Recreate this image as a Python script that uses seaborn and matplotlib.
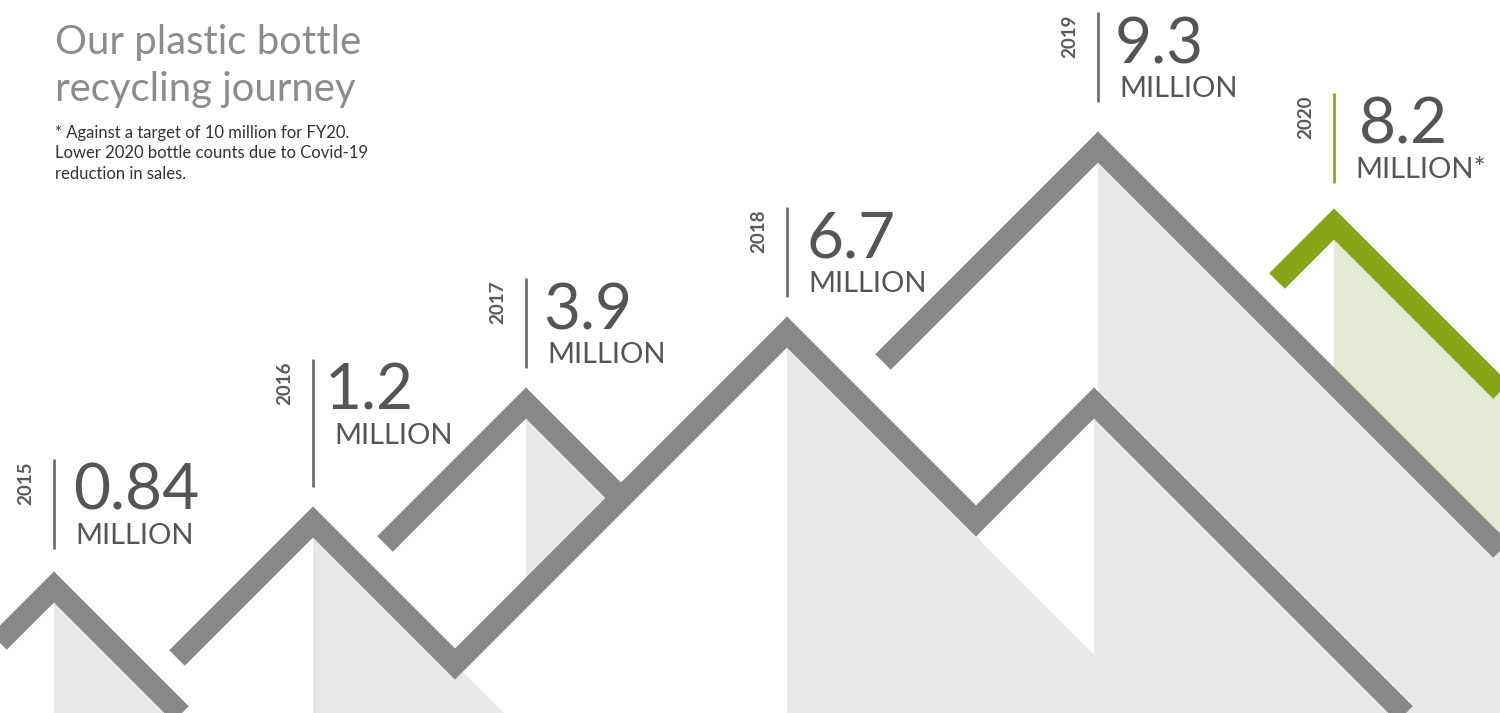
import matplotlib
matplotlib.use("Agg")
import matplotlib.pyplot as plt
import seaborn as sns

# ---------------- data ----------------
years = ["2015", "2016", "2017", "2018", "2019", "2020"]
values = [0.84, 1.2, 3.9, 6.7, 9.3, 8.2]
units = ["MILLION", "MILLION", "MILLION", "MILLION", "MILLION", "MILLION*"]
title_lines = ["Our plastic bottle", "recycling journey"]
note_lines = ["* Against a target of 10 million for FY20.",
              "Lower 2020 bottle counts due to Covid-19",
              "reduction in sales."]

# ---------------- layout (pixel space of a 1500x713 canvas) ----------------
W, H = 1500, 713
peak_x = [54, 313, 526, 787, 1098, 1334]
peak_y = [587, 522, 403, 332, 147, 224]
label_top = [459, 359, 278, 207, 12, 93]
bar_len = [90, 128, 90, 90, 90, 90]
num_dx = [19, 12, 17, 19, 17, 25]
left_leg = [100, 136, 141, None, 215, 57]   # horizontal length of cut left legs
sec_peak = (1094, 403)                        # secondary (unlabelled) peak

GRAY_LINE = "#888888"
GRAY_FILL = "#e8e8e8"
GREEN_LINE = "#87a316"
GREEN_FILL = "#e3e9d4"
TEXT_DARK = "#555555"
BAR_GRAY = "#6a6a6a"

sns.set_theme(style="white")
plt.rcParams["font.family"] = ["Lato", "DejaVu Sans"]

fig = plt.figure(figsize=(15, 7.13), dpi=100)
ax = fig.add_axes([0, 0, 1, 1])
ax.set_xlim(0, W)
ax.set_ylim(H, 0)
ax.axis("off")

LW = 22 * 72 / 100  # 22 px stroke
BOT = 760
RIGHT = 1560

P = list(zip(peak_x, peak_y))


def valley(a, b):
    x = (a[0] + b[0] + b[1] - a[1]) / 2
    return (x, a[1] + x - a[0])


def down_right(p, x=None, y=None):
    if y is not None:
        return (p[0] + (y - p[1]), y)
    return (x, p[1] + (x - p[0]))


def cut_left(p, d):
    return (p[0] - d, p[1] + d)


v13 = valley(P[1], P[3])
v3s = valley(P[3], sec_peak)
# intersection of 2017 right leg with ascending leg v13 -> P3
s_sum = P[3][0] + P[3][1]
s_diff = P[2][1] - P[2][0]
x17 = (s_sum - s_diff) / 2
j17 = (x17, s_sum - x17)

# ---------- shading ----------
fills = [
    ([P[0], down_right(P[0], y=BOT), (P[0][0], BOT)], GRAY_FILL),
    ([P[1], down_right(P[1], y=BOT), (P[1][0], BOT)], GRAY_FILL),
    ([P[2], j17, (P[2][0], s_sum - P[2][0])], GRAY_FILL),
    ([P[3], down_right(P[3], y=BOT), (P[3][0], BOT)], GRAY_FILL),
    ([sec_peak, down_right(sec_peak, y=BOT), (sec_peak[0], BOT)], GRAY_FILL),
    ([P[4], down_right(P[4], x=RIGHT), (RIGHT, BOT), (P[4][0], BOT)], GRAY_FILL),
    ([(v3s[0], v3s[1] + 15.5), sec_peak,
      (sec_peak[0], v3s[1] + 15.5 + sec_peak[0] - v3s[0])], "white"),
    ([P[5], down_right(P[5], x=RIGHT), down_right(P[4], x=RIGHT),
      down_right(P[4], x=P[5][0])], GREEN_FILL),
]
for poly, col in fills:
    xs, ys = zip(*poly)
    ax.fill(xs, ys, color=col, lw=0, zorder=1)

# ---------- mountain strokes ----------
lines = [
    ([cut_left(P[0], left_leg[0]), P[0], down_right(P[0], y=BOT)], GRAY_LINE),
    ([cut_left(P[1], left_leg[1]), P[1], v13, P[3], v3s, sec_peak,
      down_right(sec_peak, y=BOT)], GRAY_LINE),
    ([cut_left(P[2], left_leg[2]), P[2], j17], GRAY_LINE),
    ([cut_left(P[4], left_leg[4]), P[4], down_right(P[4], x=RIGHT)], GRAY_LINE),
    ([cut_left(P[5], left_leg[5]), P[5], down_right(P[5], x=RIGHT)], GREEN_LINE),
]
for pts, col in lines:
    xs, ys = zip(*pts)
    sns.lineplot(x=list(xs), y=list(ys), ax=ax, sort=False, estimator=None,
                 color=col, linewidth=LW, solid_joinstyle="miter",
                 solid_capstyle="butt", legend=False, zorder=3)

ax.set_xlim(0, W)
ax.set_ylim(H, 0)
ax.axis("off")

# ---------- labels ----------
for i, (yr, v, u) in enumerate(zip(years, values, units)):
    bx = peak_x[i]
    top = label_top[i]
    bar_col = GREEN_LINE if i == len(years) - 1 else BAR_GRAY
    ax.plot([bx, bx], [top, top + bar_len[i]], color=bar_col, lw=1.9,
            solid_capstyle="butt", zorder=4)
    ax.text(bx - 28, top + 24, yr, rotation=90, ha="center", va="center",
            fontsize=13.5, fontweight="bold", color="#5a5a5a", zorder=4)
    ax.text(bx + num_dx[i], top + 51, f"{v:g}", ha="left", va="baseline",
            fontsize=46, color=TEXT_DARK, zorder=4)
    ax.text(bx + 21, top + 85, u, ha="left", va="baseline",
            fontsize=21, color=TEXT_DARK, zorder=4)

# ---------- title & note ----------
for k, t in enumerate(title_lines):
    ax.text(55, 54 + 47 * k, t, ha="left", va="baseline", fontsize=28.8,
            color="#8c8c8c", zorder=4)
for k, t in enumerate(note_lines):
    ax.text(55, 138 + 20.5 * k, t, ha="left", va="baseline", fontsize=12,
            color="#333333", zorder=4)

fig.savefig("out.png", dpi=100)
